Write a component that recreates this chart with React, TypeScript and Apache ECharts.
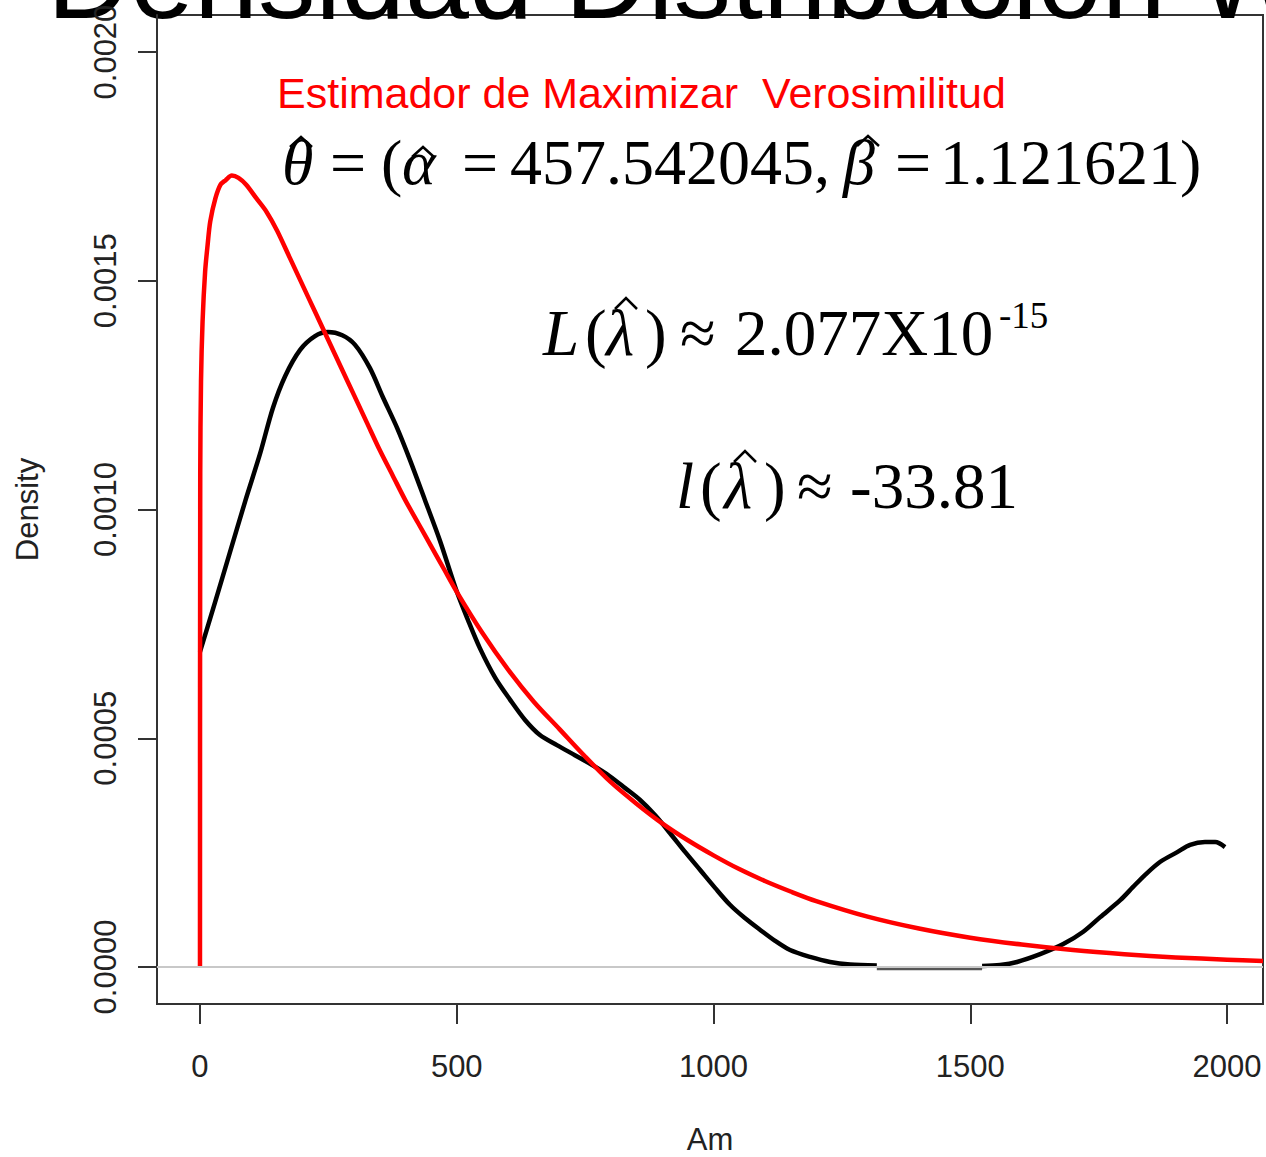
import React, { useEffect, useRef } from "react";
import * as echarts from "echarts";

const xTicks = [0, 500, 1000, 1500, 2000];
const yTicks = [0, 0.0005, 0.001, 0.0015, 0.002];

// Red: fitted Weibull density
const redX = [0, 0.5, 2, 5, 10, 15, 20, 30, 40, 50, 62, 75, 90, 110, 130, 150, 175, 200, 225, 250, 275, 300, 325, 350, 375, 400, 425, 450, 475, 500, 550, 600, 650, 700, 750, 800, 850, 900, 950, 1000, 1050, 1100, 1150, 1200, 1300, 1400, 1500, 1600, 1700, 1800, 1900, 2000, 2070];
const redY = [0, 0.00108, 0.00128, 0.00141, 0.00152, 0.00158, 0.00163, 0.00168, 0.00171, 0.00172, 0.00173, 0.001725, 0.00171, 0.00168, 0.00165, 0.00161, 0.00155, 0.00149, 0.00143, 0.00137, 0.00131, 0.00125, 0.00119, 0.00113, 0.001075, 0.00102, 0.00097, 0.00092, 0.00087, 0.00082, 0.00073, 0.00065, 0.00058, 0.00052, 0.00046, 0.000404, 0.000357, 0.000314, 0.000277, 0.000244, 0.000214, 0.000188, 0.000165, 0.000144, 0.00011, 0.000084, 0.000064, 0.000049, 0.000037, 0.000028, 0.000021, 0.000016, 0.000013];

// Black: kernel density estimate; null = gap
const blackX = [0, 29, 58, 88, 117, 142, 166, 195, 224, 249, 277, 302, 331, 356, 384, 409, 438, 467, 499, 522, 545, 575, 604, 633, 662, 695, 730, 763, 798, 828, 857, 886, 915, 945, 974, 1003, 1032, 1061, 1091, 1120, 1149, 1188, 1227, 1266, 1318, 1420, 1523, 1558, 1591, 1636, 1681, 1720, 1753, 1792, 1817, 1840, 1870, 1903, 1928, 1957, 1977, 1996];
const blackY = [0.000689, 0.000796, 0.000905, 0.001018, 0.001122, 0.001222, 0.001292, 0.001349, 0.001379, 0.001388, 0.001381, 0.00136, 0.001309, 0.001246, 0.001178, 0.001108, 0.001021, 0.000933, 0.000824, 0.000758, 0.000697, 0.000632, 0.000584, 0.00054, 0.000507, 0.000485, 0.000463, 0.000442, 0.000417, 0.000391, 0.000365, 0.000332, 0.000293, 0.000251, 0.000212, 0.000173, 0.000136, 0.000107, 0.000081, 0.000057, 0.000037, 0.000022, 0.000011, 0.0000055, 0.0000033, null, 0.0000022, 0.0000044, 0.000011, 0.000028, 0.00005, 0.000077, 0.000109, 0.000146, 0.000175, 0.000201, 0.00023, 0.000251, 0.000267, 0.000273, 0.000273, 0.000262];

// Short dark grey segment lying on the zero line
const segX = [1318, 1523];
const segY = [-0.000004, -0.000004];

const titleText = "Densidad Distribución Weibull";
const subtitleText = "Estimador de Maximizar  Verosimilitud";
const xName = "Am";
const yName = "Density";

const serif = '"Liberation Serif", "Times New Roman", serif';
const sans = '"Liberation Sans", Arial, sans-serif';

function txt(x: number, y: number, text: string, size: number, italic = false, fill = "#000") {
  return {
    type: "text",
    x,
    y,
    silent: true,
    style: {
      text,
      font: `${italic ? "italic " : ""}${size}px ${serif}`,
      fill,
      verticalAlign: "middle",
      align: "left",
    },
  };
}

function hat(cx: number, top: number, w: number, h: number) {
  return {
    type: "polyline",
    silent: true,
    shape: {
      points: [
        [cx - w / 2, top + h],
        [cx, top],
        [cx + w / 2, top + h],
      ],
    },
    style: { stroke: "#000", lineWidth: 2.5, fill: "none" },
  };
}

export default function App() {
  const ref = useRef<HTMLDivElement>(null);
  useEffect(() => {
    document.body.style.margin = "0";
    const chart = echarts.init(ref.current!, null, { renderer: "svg" });
    const option: any = {
      animation: false,
      backgroundColor: "#ffffff",
      grid: {
        left: 157,
        top: 15,
        right: 3,
        bottom: 153,
        outerBoundsMode: "none",
        show: true,
        borderColor: "#333333",
        borderWidth: 2,
        backgroundColor: "transparent",
      },
      xAxis: {
        type: "value",
        min: -83.7,
        max: 2070,
        name: xName,
        nameLocation: "middle",
        nameGap: 120,
        nameTextStyle: { fontFamily: sans, fontSize: 31, lineHeight: 31, color: "#222" },
        axisLine: { show: true, onZero: false, lineStyle: { color: "#333", width: 2 } },
        axisTick: { show: true, length: 20, customValues: xTicks, lineStyle: { color: "#333", width: 2 } },
        axisLabel: {
          customValues: xTicks,
          margin: 47,
          fontFamily: sans,
          fontSize: 31,
          color: "#222",
          formatter: (v: number) => String(v),
        },
        splitLine: { show: false },
      },
      yAxis: {
        type: "value",
        min: -0.0000809,
        max: 0.002081,
        name: yName,
        nameLocation: "middle",
        nameGap: 114,
        nameRotate: 90,
        nameTextStyle: { fontFamily: sans, fontSize: 31, color: "#222" },
        axisLine: { show: true, onZero: false, lineStyle: { color: "#333", width: 2 } },
        axisTick: { show: true, length: 19, customValues: yTicks, lineStyle: { color: "#333", width: 2 } },
        axisLabel: {
          customValues: yTicks,
          rotate: 90,
          margin: 36,
          fontFamily: sans,
          fontSize: 31,
          color: "#222",
          formatter: (v: number) => v.toFixed(4),
        },
        splitLine: { show: false },
      },
      series: [
        {
          type: "line",
          name: "zero",
          data: segX.map((x, i) => [x, segY[i]]),
          showSymbol: false,
          lineStyle: { color: "#555555", width: 3 },
          silent: true,
          z: 1,
          markLine: {
            silent: true,
            symbol: ["none", "none"],
            label: { show: false },
            lineStyle: { color: "#c8c8c8", width: 2, type: "solid" },
            data: [{ yAxis: 0 }],
          },
        },
        {
          type: "line",
          name: "kde",
          data: blackX.map((x, i) => [x, blackY[i]]),
          showSymbol: false,
          smooth: 0.3,
          connectNulls: false,
          lineStyle: { color: "#000000", width: 4.5, join: "round" },
          z: 3,
        },
        {
          type: "line",
          name: "weibull",
          data: redX.map((x, i) => [x, redY[i]]),
          showSymbol: false,
          smooth: 0.3,
          lineStyle: { color: "#ff0000", width: 4.5, join: "round" },
          z: 4,
        },
      ],
      graphic: [
        {
          type: "text",
          x: 47,
          y: -22,
          silent: true,
          style: {
            text: titleText,
            font: `115px ${sans}`,
            fill: "#000",
            verticalAlign: "middle",
            align: "left",
          },
        },
        {
          type: "text",
          x: 277,
          y: 93,
          silent: true,
          style: {
            text: subtitleText,
            font: `43px ${sans}`,
            fill: "#ff0000",
            verticalAlign: "middle",
            align: "left",
          },
        },
        // line 1: theta-hat = (alpha-hat = ..., beta-hat = ...)
        txt(282, 162, "θ", 64, true),
        hat(301, 137, 22, 10),
        txt(330, 162, "=", 64),
        txt(381, 162, "(", 64),
        txt(402, 162, "α", 64, true),
        hat(423, 147, 22, 10),
        txt(462, 162, "=", 64),
        txt(510, 162, "457.542045,", 64),
        txt(843, 162, "β", 64, true),
        hat(868, 136, 22, 10),
        txt(895, 162, "=", 64),
        txt(940, 162, "1.121621)", 64),
        // line 2: L(lambda-hat) ~ 2.077X10^-15
        txt(543, 333, "L", 65, true),
        txt(585, 333, "(", 65),
        txt(606, 333, "λ", 65, true),
        hat(626, 298, 22, 11),
        txt(645, 333, ")", 65),
        txt(680, 333, "≈", 65),
        txt(735, 333, "2.077X10", 65),
        txt(999, 315, "-15", 37),
        // line 3: l(lambda-hat) ~ -33.81
        txt(676, 486, "l", 65, true),
        txt(700, 486, "(", 65),
        txt(724, 486, "λ", 65, true),
        hat(745, 451, 22, 11),
        txt(764, 486, ")", 65),
        txt(797, 486, "≈", 65),
        txt(850, 486, "-33.81", 65),
      ],
    };
    chart.setOption(option);
    return () => chart.dispose();
  }, []);
  return <div ref={ref} style={{ width: 1266, height: 1157 }} />;
}
